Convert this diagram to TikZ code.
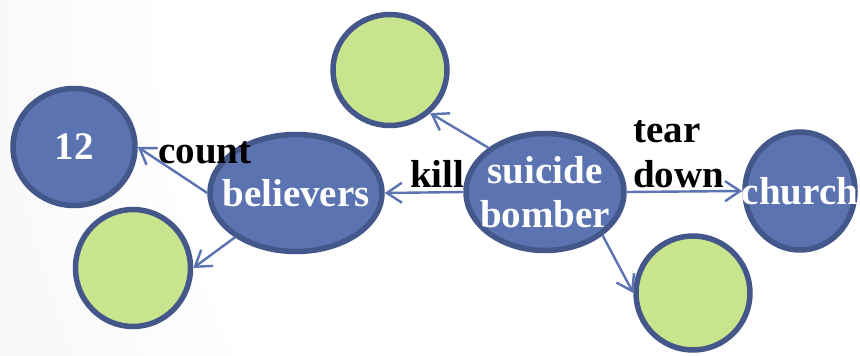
\documentclass[tikz,border=0pt]{standalone}
\usepackage{fontspec}
\setmainfont{Liberation Serif}
\usetikzlibrary{shapes.geometric,arrows.meta}

\definecolor{nodefill}{HTML}{5C73B1}
\definecolor{nodeborder}{HTML}{44578A}
\definecolor{leaffill}{HTML}{C8E58E}
\definecolor{linkcol}{HTML}{5C73B1}

% soft light backdrop, brightest towards the upper right
\pgfdeclareradialshading{backdrop}{\pgfpoint{0bp}{0bp}}{%
  color(0bp)=(white); color(9bp)=(white); color(25bp)=(black!16); color(50bp)=(black!16)}

\tikzset{
  big/.style={font=\fontsize{39}{45}\selectfont\bfseries},
  shell/.style={ellipse, draw=nodeborder, line width=5.5pt, inner sep=0pt},
  concept/.style={shell, fill=nodefill,
    label={[big, text=white, align=center, inner sep=0pt]center:#1}},
  leaf/.style={shell, fill=leaffill},
  link/.style={draw=linkcol, line width=2.4pt,
    -{Straight Barb[length=15pt,width=20pt,line width=2.4pt]}},
  rel/.style={big, text=black, inner sep=0pt},
}

\begin{document}
\begin{tikzpicture}[x=1pt,y=-1pt]
  \useasboundingbox (0,0) rectangle (860,356);
  \begin{scope}
    \clip (0,0) rectangle (860,356);
    \path[shading=backdrop] (840,30) circle (1860);
  \end{scope}

  % nodes
  \node[concept={12}, minimum width=122pt, minimum height=117pt] (twelve) at (74,147) {};
  \node[leaf, minimum width=115pt, minimum height=117pt] (leafA) at (133,268) {};
  \node[concept={believers}, minimum width=172pt, minimum height=117pt] (believers) at (296,193) {};
  \node[leaf, minimum width=114pt, minimum height=111pt] (leafB) at (390,70) {};
  \node[concept={suicide\\[-1pt]bomber}, minimum width=158pt, minimum height=117pt] (bomber) at (545,192) {};
  \node[concept={church}, minimum width=110pt, minimum height=118pt] (church) at (800,191) {};
  \node[leaf, minimum width=114pt, minimum height=114pt] (leafC) at (693,293) {};

  % connectors
  \draw[link] (believers.west) -- (twelve.east);
  \draw[link] (believers.216) -- (leafA.east);
  \draw[link] (bomber.west) -- (believers.east);
  \draw[link] (bomber.142) -- (leafB.313);
  \draw[link] (bomber.east) -- (church.west);
  \draw[link] (bomber.323) -- (leafC.west);

  % relation labels
  \node[rel, anchor=base west] (lcount) at (158,163) {count};
  \node[rel, anchor=base west] (lkill) at (410,187) {kill};
  \node[rel, anchor=base west, align=left] (ltear) at (633,187) {tear\\down};
\end{tikzpicture}
\end{document}
